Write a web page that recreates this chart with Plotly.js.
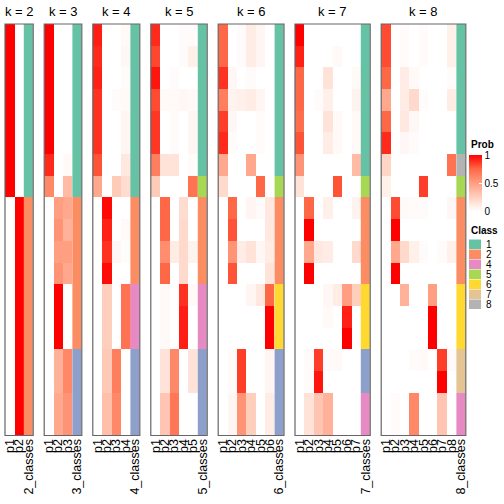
<!DOCTYPE html>
<html><head><meta charset="utf-8">
<script src="https://cdn.plot.ly/plotly-3.0.1.min.js"></script>
<style>html,body{margin:0;padding:0;background:#fff}</style>
</head><body><div id="chart" style="width:504px;height:504px"></div>
<script>
const ks = [2,3,4,5,6,7,8];
const legendClasses = [1,2,4,5,6,7,8];
const classColors = {1:'#66C2A5',2:'#FC8D62',3:'#8DA0CB',4:'#E78AC3',5:'#A6D854',6:'#FFD92F',7:'#E5C494',8:'#B3B3B3'};

const class2 = [1,1,1,1,1,1,1,1,2,2,2,2,2,2,2,2,2,2,2];
const class3 = [1,1,1,1,1,1,1,1,2,2,2,2,2,2,2,3,3,3,3];
const class4 = [1,1,1,1,1,1,1,1,2,2,2,2,4,4,4,3,3,3,3];
const class5 = [1,1,1,1,1,1,1,5,2,2,2,2,4,4,4,3,3,3,3];
const class6 = [1,1,1,1,1,1,1,5,2,2,2,2,6,6,6,3,3,3,3];
const class7 = [1,1,1,1,1,1,1,5,2,2,2,2,6,6,6,3,3,4,4];
const class8 = [1,1,1,1,1,1,8,5,2,2,2,2,6,6,6,7,7,4,4];

const prob2 = [
 [1,0],[1,0],[1,0],[1,0],[1,0],[1,0],[1,0],[1,0],
 [0,1],[0,1],[0,1],[0,1],[0,1],[0,1],[0,1],[0,1],[0,1],[0,1],[0,1]];
const prob3 = [
 [1,0,0],[1,0,0],[1,0,0],[1,0,0],[1,0,0],[1,0,0],
 [0.9,0,0.03],[0.6,0,0.35],
 [0,0.5,0.45],[0,0.55,0.4],[0,0.5,0.5],[0,0.55,0.45],
 [0,1,0],[0,1,0],[0,1,0],
 [0,0.4,0.6],[0,0.4,0.6],[0,0.45,0.55],[0,0.45,0.55]];
const prob4 = [
 [0.93,0,0,0.03],[0.9,0,0,0.04],[0.92,0,0,0.02],[0.88,0,0.02,0.03],
 [0.88,0,0,0.05],[0.88,0,0,0.05],[0.8,0,0,0.12],[0.45,0,0.27,0.18],
 [0,0.98,0,0],[0,0.92,0,0.03],[0,0.88,0.04,0.01],[0,0.97,0,0],
 [0,0.25,0,0.7],[0,0.25,0,0.7],[0,0.25,0,0.7],
 [0,0.28,0.65,0],[0,0.28,0.65,0],[0,0.33,0.6,0],[0,0.33,0.6,0]];
const prob5 = [
 [0.9,0,0,0.02,0.02],[0.83,0,0,0.02,0.08],[0.95,0,0.02,0,0],[0.82,0.03,0.03,0.04,0.03],
 [0.87,0,0.02,0,0.05],[0.87,0,0.02,0,0.05],[0.65,0.15,0.15,0,0.02],[0.27,0,0,0,0.7],
 [0,0.75,0,0.18,0],[0,0.75,0,0.2,0],[0,0.58,0.1,0.2,0.06],[0,0.75,0,0.2,0],
 [0,0.03,0,0.88,0.03],[0,0.03,0,0.93,0],[0,0.03,0,0.93,0],
 [0,0.15,0.6,0,0.15],[0,0.15,0.6,0,0.15],[0,0.3,0.68,0,0],[0,0.3,0.68,0,0]];
const prob6 = [
 [0.75,0,0.02,0.1,0.05,0],[0.75,0,0.02,0.1,0.05,0],[0.88,0.04,0,0.02,0,0],[0.65,0.06,0.08,0.1,0.05,0],
 [0.85,0.04,0,0,0.02,0],[0.9,0.02,0,0,0.02,0],[0.45,0,0,0.45,0,0],[0.2,0,0,0,0.75,0],
 [0,0.75,0,0.05,0.02,0.12],[0,0.8,0,0,0,0.12],[0,0.55,0.1,0.15,0.04,0.1],[0,0.8,0,0,0,0.15],
 [0,0,0,0.05,0.12,0.75],[0,0,0,0,0,1],[0,0,0,0,0,1],
 [0,0.02,0.85,0,0,0.05],[0,0.02,0.85,0,0,0.05],[0,0.05,0.55,0.25,0,0.1],[0,0.05,0.55,0.25,0,0.1]];
const prob7 = [
 [1,0,0,0,0,0,0],[0.92,0,0,0,0.03,0,0],[0.75,0,0,0.15,0,0,0.03],[0.75,0,0.02,0.08,0,0,0.06],
 [0.72,0,0,0.15,0.03,0,0.03],[0.8,0,0,0.1,0.03,0,0.03],[0.55,0,0,0,0,0,0.35],[0.15,0,0,0,0.8,0,0],
 [0,0.75,0,0.08,0,0,0.06],[0,1,0,0,0,0,0],[0,0.45,0.12,0.1,0,0,0.2],[0,1,0,0,0,0,0],
 [0,0,0,0.04,0.1,0.5,0.25],[0,0,0,0.03,0,0.92,0],[0,0,0,0,0,1,0],
 [0,0.02,0.85,0.02,0.03,0,0],[0,0.02,0.95,0,0,0,0],[0,0.15,0.3,0.4,0,0,0],[0,0.15,0.3,0.4,0,0,0]];
const prob8 = [
 [0.82,0,0.02,0,0.02,0,0,0.08],[0.82,0,0.02,0,0.02,0,0,0.08],[0.75,0,0.1,0.03,0,0,0,0.02],[0.45,0,0.1,0.2,0.02,0,0,0.1],
 [0.75,0,0.12,0.04,0,0,0,0],[0.9,0,0.04,0.02,0,0,0,0],[0.22,0,0,0,0,0,0,0.7],[0.08,0,0,0,0.85,0,0,0],
 [0,0.82,0.03,0.02,0.02,0,0,0.04],[0,1,0,0,0,0,0,0],[0,0.45,0.2,0.08,0.02,0,0.02,0.08],[0,1,0,0,0,0,0,0],
 [0,0,0.4,0,0,0.5,0,0],[0,0,0,0,0,1,0,0],[0,0,0,0,0,1,0,0],
 [0,0,0,0.02,0.03,0,0.85,0.03],[0,0,0,0,0,0,1,0],[0,0.02,0,0.6,0,0,0.3,0],[0,0.02,0,0.6,0,0,0.3,0]];

const probs = [prob2,prob3,prob4,prob5,prob6,prob7,prob8];
const classesAll = [class2,class3,class4,class5,class6,class7,class8];

const W = 504, H = 504;
const colW = 9.4, gap = 11, x0 = 5;
const yTop = 24, yBot = 435.5;
const nRows = class2.length;
const rowIdx = class2.map((_, i) => i);

const probScale = [[0,'#FFFFFF'],[0.25,'#FFCFBE'],[0.5,'#FF9E81'],[0.75,'#FF6846'],[1,'#FF0000']];
const classScale = [];
for (let c = 1; c <= 8; c++) {
  classScale.push([(c-1)/8, classColors[c]]);
  classScale.push([c/8, classColors[c]]);
}

const data = [];
const layout = {
  width: W, height: H,
  margin: {l:0, r:0, t:0, b:0},
  paper_bgcolor: '#fff', plot_bgcolor: '#fff',
  font: {family: 'Liberation Sans, Arial, sans-serif', color: '#000'},
  showlegend: false,
  yaxis: {domain: [1 - yBot/H, 1 - yTop/H], range: [nRows - 0.5, -0.5], showticklabels: false,
          showgrid: false, zeroline: false, ticks: '', fixedrange: true},
  shapes: [], annotations: []
};

let cursor = x0;
ks.forEach((k, i) => {
  const n = i + 1;
  const xa = n === 1 ? 'x' : 'x' + n;
  const left = cursor, right = cursor + (k + 1) * colW;
  cursor = right + gap;
  const cols = probs[i][0].map((_, j) => j);
  const trace = {
    type: 'heatmap', z: probs[i], x: cols, y: rowIdx,
    xaxis: xa, yaxis: 'y', zmin: 0, zmax: 1, colorscale: probScale,
    showscale: i === 0, hoverinfo: 'z'
  };
  if (i === 0) {
    trace.colorbar = {
      x: 469/W, xanchor: 'left', xpad: 0,
      y: 1 - 155/H, yanchor: 'top', ypad: 0,
      len: 56, lenmode: 'pixels', thickness: 13, outlinewidth: 0,
      tickvals: [0, 0.5, 1], ticktext: ['0','0.5','1'],
      ticks: 'inside', ticklen: 3, tickcolor: '#fff',
      tickfont: {size: 10, color: '#000'}
    };
  }
  data.push(trace);
  data.push({
    type: 'heatmap', z: classesAll[i].map(c => [c]), x: [k], y: rowIdx,
    xaxis: xa, yaxis: 'y', zmin: 0.5, zmax: 8.5, colorscale: classScale,
    showscale: false, hoverinfo: 'z'
  });
  const tickvals = cols.concat([k]);
  const ticktext = cols.map(j => 'p' + (j + 1)).concat([k + '_classes']);
  layout['xaxis' + (n === 1 ? '' : n)] = {
    domain: [left / W, right / W], anchor: 'y', range: [-0.5, k + 0.5],
    tickvals: tickvals, ticktext: ticktext, tickangle: -90,
    tickfont: {size: 12.5}, showgrid: false, zeroline: false, showline: false, ticks: '',
    fixedrange: true
  };
  layout.shapes.push({type: 'rect', xref: 'paper', yref: 'paper',
    x0: left / W, x1: right / W, y0: 1 - yBot / H, y1: 1 - yTop / H,
    line: {color: '#666', width: 1.2}});
  layout.annotations.push({xref: 'paper', yref: 'paper', x: (left + right) / 2 / W, y: 1 - 11 / H,
    text: 'k = ' + k, showarrow: false, font: {size: 13}, xanchor: 'center', yanchor: 'middle'});
});

// Legend titles
layout.annotations.push({xref:'paper', yref:'paper', x: 469/W, y: 1 - 144/H, text: '<b>Prob</b>',
  showarrow:false, xanchor:'left', yanchor:'middle', font:{size:10}});
layout.annotations.push({xref:'paper', yref:'paper', x: 469/W, y: 1 - 231/H, text: '<b>Class</b>',
  showarrow:false, xanchor:'left', yanchor:'middle', font:{size:10}});
legendClasses.forEach((c, i) => {
  const top = 239.5 + i * 10;
  layout.shapes.push({type:'rect', xref:'paper', yref:'paper',
    x0: 469/W, x1: 481/W, y0: 1 - (top + 9.5)/H, y1: 1 - top/H,
    fillcolor: classColors[c], line: {width: 0}});
  layout.annotations.push({xref:'paper', yref:'paper', x: 484/W, y: 1 - (top + 5)/H,
    text: String(c), showarrow:false, xanchor:'left', yanchor:'middle', font:{size:10}});
});

Plotly.newPlot('chart', data, layout, {displayModeBar: false, staticPlot: true});
</script></body></html>
